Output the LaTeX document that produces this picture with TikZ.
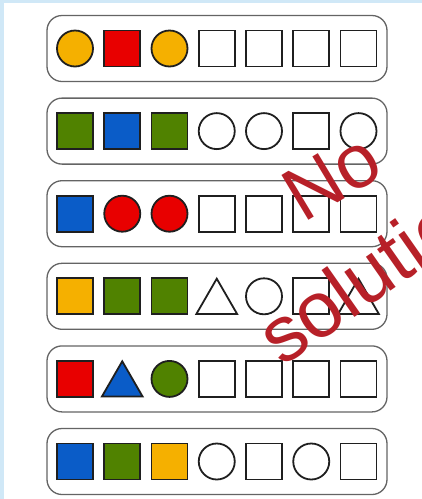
\documentclass[tikz,border=0pt]{standalone}
\usepackage{fontspec}
\newfontfamily\wmfont{Liberation Sans}
\usetikzlibrary{shapes.geometric}
\definecolor{wmred}{RGB}{183,32,40}
\definecolor{bgblue}{RGB}{208,232,247}
\definecolor{cor}{RGB}{245,176,0}
\definecolor{cre}{RGB}{232,0,0}
\definecolor{cgr}{RGB}{80,130,0}
\definecolor{cbl}{RGB}{10,92,200}
\definecolor{cwh}{RGB}{255,255,255}
\definecolor{framegrey}{RGB}{100,100,100}
\tikzset{
  rowframe/.style={draw=framegrey, line width=1.3pt, rounded corners=15pt,
    minimum width=340pt, minimum height=66pt, inner sep=0pt, rectangle},
  shpbase/.style={draw=black!88, line width=1.8pt, inner sep=0pt},
  shpS/.style={shpbase, rectangle, minimum size=36pt},
  shpC/.style={shpbase, circle, minimum size=36pt},
  shpT/.style={shpbase, regular polygon, regular polygon sides=3,
    minimum size=47pt, yshift=-5.9pt},
  watermark/.style={text=wmred, anchor=base west, inner sep=0pt}
}
\begin{document}
\begin{tikzpicture}[x=1pt,y=-1pt]
\fill[white] (0,0) rectangle (422,499);
\fill[bgblue] (0,0) rectangle (4,499);
\fill[bgblue] (0,0) rectangle (422,3);
\useasboundingbox (0,0) rectangle (422,499);
\foreach \row [count=\i from 0] in {
  {C/cor,S/cre,C/cor,S/cwh,S/cwh,S/cwh,S/cwh},
  {S/cgr,S/cbl,S/cgr,C/cwh,C/cwh,S/cwh,C/cwh},
  {S/cbl,C/cre,C/cre,S/cwh,S/cwh,S/cwh,S/cwh},
  {S/cor,S/cgr,S/cgr,T/cwh,C/cwh,S/cwh,T/cwh},
  {S/cre,T/cbl,C/cgr,S/cwh,S/cwh,S/cwh,S/cwh},
  {S/cbl,S/cgr,S/cor,C/cwh,S/cwh,C/cwh,S/cwh}}{
  \node[rowframe] (f\i) at (217,{48.5+82.6*\i}) {};
  \foreach \t/\c [count=\j from 0] in \row {
    \node[shp\t, fill=\c] (r\i c\j) at ({75+47.25*\j},{48.5+82.6*\i}) {};
  }
}
\node[watermark, rotate=31, font=\wmfont\fontsize{76}{90}\selectfont] (wno) at (303,224) {No};
\node[watermark, rotate=35, font=\wmfont\fontsize{79}{94}\selectfont] (wsol) at (282,368) {solution};
\end{tikzpicture}
\end{document}
